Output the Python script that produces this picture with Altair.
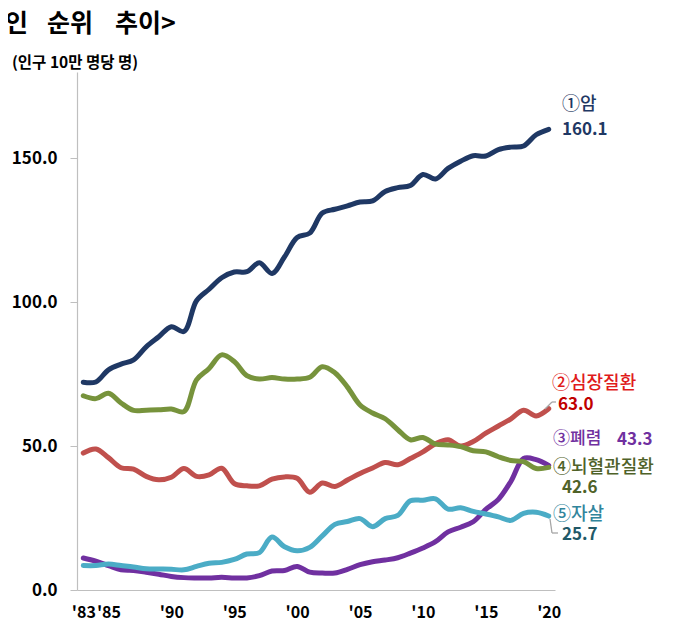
import altair as alt
import pandas as pd

FONT = "Noto Sans CJK KR"

years = list(range(1983, 2021))
cancer = [72.2, 72.3, 76.5, 78.5, 80.0, 84.5, 88.0, 91.5, 89.8, 100.5,
          104.5, 108.5, 110.5, 110.6, 113.7, 110.0, 115.8, 122.5, 124.0, 131.0,
          132.3, 133.5, 134.8, 135.2, 138.5, 139.8, 140.6, 144.4, 142.8, 146.5,
          149.0, 150.9, 150.8, 153.0, 153.9, 154.3, 158.2, 160.1]
heart = [47.6, 49.0, 46.0, 42.5, 42.0, 39.5, 38.3, 39.2, 42.2, 39.5,
         40.0, 42.3, 37.0, 36.2, 36.2, 38.5, 39.3, 38.8, 34.0, 37.2,
         36.0, 38.2, 40.5, 42.4, 44.3, 43.5, 45.7, 48.0, 50.8, 52.2,
         50.0, 51.6, 54.5, 57.0, 59.5, 62.5, 60.5, 63.0]
pneumonia = [11.1, 10.0, 8.5, 7.0, 6.8, 6.2, 5.5, 4.7, 4.3, 4.2,
             4.2, 4.4, 4.2, 4.2, 5.0, 6.6, 6.8, 8.2, 6.2, 5.9,
             5.9, 7.2, 8.8, 9.8, 10.4, 11.2, 12.8, 14.6, 16.8, 20.2,
             21.8, 23.7, 28.0, 31.5, 37.8, 45.7, 45.3, 43.3]
cerebro = [67.5, 66.5, 68.4, 65.0, 62.4, 62.5, 62.6, 62.9, 62.0, 73.0,
           77.0, 81.7, 79.4, 74.5, 73.3, 73.8, 73.3, 73.3, 73.9, 77.6,
           75.5, 70.5, 64.3, 61.5, 59.5, 55.7, 52.2, 53.0, 50.7, 50.4,
           49.8, 48.4, 48.0, 46.3, 45.0, 44.6, 42.2, 42.6]
suicide = [8.5, 8.5, 9.0, 8.5, 8.0, 7.4, 7.3, 7.2, 7.0, 8.2,
           9.3, 9.6, 10.6, 12.5, 13.0, 18.4, 15.0, 13.6, 14.8, 18.8,
           22.8, 23.8, 24.8, 22.0, 24.8, 25.9, 31.0, 31.2, 31.7, 28.1,
           28.6, 27.3, 26.4, 25.4, 24.2, 26.6, 27.0, 25.7]

series_names = ["암", "심장질환", "폐렴", "뇌혈관질환", "자살"]
series_values = [cancer, heart, pneumonia, cerebro, suicide]
line_colors = ["#1F3864", "#C0504D", "#7030A0", "#77933C", "#4BACC6"]

tick_years = [1983, 1985, 1990, 1995, 2000, 2005, 2010, 2015, 2020]
y_ticks = [0, 50, 100, 150]

W, H = 478, 518

x_scale = alt.Scale(domain=[1982.5, 2020.5], nice=False, zero=False)
y_scale = alt.Scale(domain=[0, 180], nice=False)

x_axis = alt.Axis(values=tick_years, labelExpr="\"'\" + substring(toString(datum.value), 2, 4)",
                  ticks=False, grid=False, domainColor="#BFBFBF", domainWidth=1.2,
                  labelFont=FONT, labelFontSize=16, labelFontWeight="bold", labelColor="#000000",
                  labelPadding=14, labelOverlap=False, labelFlush=False, title=None)
y_axis = alt.Axis(values=y_ticks, format=".1f", grid=False, domainColor="#BFBFBF", domainWidth=1.2,
                  tickColor="#BFBFBF", tickSize=7, labelPadding=13,
                  labelFont=FONT, labelFontSize=17, labelFontWeight="bold", labelColor="#000000",
                  title=None)

layers = []
for name, vals, col in zip(series_names, series_values, line_colors):
    df = pd.DataFrame({"year": years, "value": vals, "cause": name})
    layers.append(
        alt.Chart(df).mark_line(interpolate="catmull-rom", strokeWidth=5, color=col,
                                strokeCap="round", strokeJoin="round")
        .encode(x=alt.X("year:Q", scale=x_scale, axis=x_axis),
                y=alt.Y("value:Q", scale=y_scale, axis=y_axis))
    )

one = pd.DataFrame({"d": [0]})


def txt(s, x, y, size, color, weight="bold", align="left"):
    return alt.Chart(pd.DataFrame({"t": [s]})).mark_text(
        align=align, baseline="middle", fontSize=size, fontWeight=weight, color=color, font=FONT
    ).encode(x=alt.value(x), y=alt.value(y), text="t:N")


def rule(x1, y1, x2, y2, color="#A6A6A6"):
    return alt.Chart(one).mark_rule(color=color, strokeWidth=1.3).encode(
        x=alt.value(x1), y=alt.value(y1), x2=alt.value(x2), y2=alt.value(y2))


annots = [
    txt("<사망원인", -49, -48, 25, "#000000", align="right"),
    txt("순위", -30, -48, 25, "#000000"),
    txt("추이>", 38, -48, 25, "#000000"),
    txt("(인구 10만 명당 명)", -65, -9, 15.5, "#000000"),
    txt("①암", 485, 33, 18, "#1F3864", weight=500),
    txt("160.1", 485, 58, 17, "#1F3864"),
    txt("②심장질환", 475, 312, 18, "#E01B1B", weight=500),
    txt("63.0", 481, 333, 17, "#C00000"),
    txt("③폐렴", 476, 367, 17, "#7030A0", weight=500),
    txt("43.3", 540, 368, 17, "#7030A0"),
    txt("④뇌혈관질환", 476, 396, 18, "#4F6228", weight=500),
    txt("42.6", 485, 416, 17, "#4F6228"),
    txt("⑤자살", 476, 443, 18, "#31859C", weight=500),
    txt("25.7", 485, 463, 17, "#215968"),
    rule(468, 337, 475, 330),
    rule(475, 330, 479, 330),
    rule(473, 447, 475, 461),
    rule(475, 461, 481, 461),
]

chart = alt.layer(*layers, *annots).properties(
    width=W, height=H,
    autosize=alt.AutoSizeParams(type="none"),
    padding={"left": 69, "top": 64, "right": 111, "bottom": 31},
    background="white",
).configure_view(stroke=None)

chart.save("out.html", embed_options={"renderer": "svg", "actions": False})
